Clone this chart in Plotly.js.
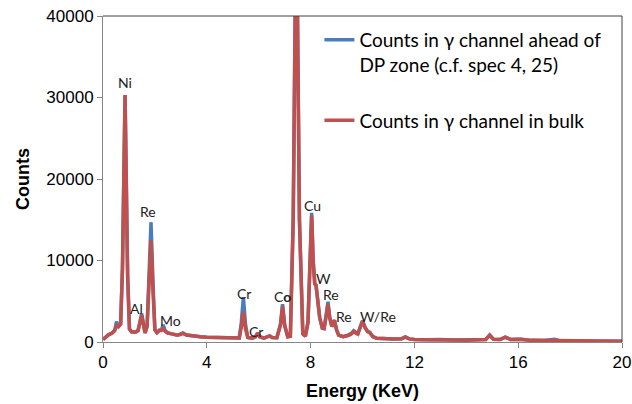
<!DOCTYPE html>
<html>
<head>
<meta charset="utf-8">
<script src="https://cdn.plot.ly/plotly-3.0.1.min.js"></script>
<style>html,body{margin:0;padding:0;background:#fff;}#chart{width:632px;height:404px;}</style>
</head>
<body>
<div id="chart"></div>
<script>
// Energy (keV) sample points
const energy = [
  0.00, 0.10, 0.20, 0.35, 0.45, 0.52, 0.60, 0.68, 0.75, 0.85, 0.95, 1.02, 1.10, 1.25, 1.35, 1.42, 1.49, 1.56, 1.62, 1.70,
  1.77, 1.85, 1.93, 2.00, 2.08, 2.17, 2.25, 2.32, 2.40, 2.50, 2.65, 2.83, 2.95, 3.08, 3.22, 3.45, 3.75, 4.00, 4.50, 5.00,
  5.25, 5.33, 5.41, 5.49, 5.58, 5.75, 5.88, 5.96, 6.04, 6.20, 6.33, 6.42, 6.52, 6.70, 6.84, 6.92, 7.00, 7.12, 7.22, 7.33,
  7.45, 7.57, 7.70, 7.80, 7.90, 7.97, 8.04, 8.10, 8.16, 8.21, 8.27, 8.35, 8.45, 8.52, 8.60, 8.67, 8.74, 8.82, 8.92, 9.00,
  9.08, 9.25, 9.45, 9.58, 9.66, 9.75, 9.82, 9.92, 10.00, 10.10, 10.20, 10.28, 10.40, 10.55, 10.80, 11.20, 11.50, 11.65, 11.80, 12.00,
  12.50, 13.00, 13.50, 14.00, 14.50, 14.75, 14.90, 15.05, 15.30, 15.50, 15.70, 16.10, 16.50, 17.00, 17.40, 17.60, 18.00, 19.00, 20.00
];
// Counts in gamma channel ahead of DP zone
const countsAhead = [
  300, 600, 850, 1100, 1400, 2500, 1900, 2200, 9000, 30300, 8000, 1600, 1250, 1200, 1400, 2400, 3500, 2200, 1100, 2000,
  8000, 14700, 7000, 1500, 1150, 1450, 1500, 2100, 1350, 1100, 1000, 860, 900, 1100, 850, 720, 640, 580, 560, 520,
  500, 2400, 5500, 2200, 550, 480, 650, 1100, 650, 480, 600, 740, 550, 520, 2200, 4650, 2100, 650, 700, 15000,
  55000, 15000, 1000, 700, 2500, 9000, 15850, 10000, 7200, 7000, 5300, 3000, 1700, 1650, 3300, 4950, 3000, 1900, 2700, 1500,
  850, 650, 850, 1100, 1400, 1100, 1000, 1900, 2600, 1800, 1300, 1200, 650, 450, 400, 380, 400, 650, 380, 300,
  280, 320, 250, 230, 230, 300, 860, 320, 300, 600, 320, 350, 200, 180, 320, 150, 130, 110, 100
];
// Counts in gamma channel in bulk
const countsBulk = [
  300, 600, 850, 1100, 1400, 2000, 1900, 2200, 9000, 30300, 8000, 1600, 1250, 1200, 1400, 2300, 3300, 2100, 1100, 1900,
  7000, 12500, 6000, 1500, 1150, 1400, 1400, 1650, 1300, 1100, 1000, 860, 900, 1050, 850, 720, 640, 580, 560, 520,
  500, 1800, 3700, 1600, 550, 480, 650, 1100, 650, 480, 600, 740, 550, 520, 2100, 4400, 2000, 650, 700, 15000,
  55000, 15000, 1000, 700, 2400, 8800, 15500, 9800, 7100, 6900, 5200, 3000, 1700, 1650, 3200, 4600, 2900, 1900, 2650, 1500,
  850, 650, 800, 1000, 1300, 1050, 1000, 1850, 2550, 1750, 1250, 1150, 650, 450, 400, 380, 400, 600, 380, 300,
  280, 300, 250, 230, 230, 300, 820, 320, 300, 580, 320, 340, 200, 180, 250, 150, 130, 110, 100
];
const seriesNames = [
  "Counts in γ channel ahead of<br>DP zone (c.f. spec 4, 25)",
  "Counts in γ channel in bulk"
];
// Peak labels
const peakLabels = ["Ni", "Re", "Al", "Mo", "Cr", "Cr", "C<b>o</b>", "Cu", "W", "Re", "Re", "W/Re"];
const peakLabelX = [0.85, 1.74, 1.30, 2.62, 5.43, 5.91, 6.93, 8.07, 8.50, 8.77, 9.27, 10.59];
const peakLabelY = [31780, 15990, 4050, 2620, 5970, 1270, 5560, 16810, 7810, 5770, 3190, 3190];
const xTicks = [0, 4, 8, 12, 16, 20];
const yTicks = [0, 10000, 20000, 30000, 40000];

const traces = [
  {x: energy, y: countsAhead, name: seriesNames[0], type: "scatter", mode: "lines",
   line: {color: "#4a7ebb", width: 3.5}, legendgroup: "a"},
  {x: energy, y: countsBulk, name: seriesNames[1], type: "scatter", mode: "lines",
   line: {color: "#c0504d", width: 3.5}, legendgroup: "b"}
];

const annotations = peakLabels.map((t, i) => ({
  x: peakLabelX[i], y: peakLabelY[i], xref: "x", yref: "y", text: t, showarrow: false,
  font: {family: "Lato, 'Noto Sans', sans-serif", size: 14, color: "#222"},
  xanchor: "center", yanchor: "middle"
}));

const layout = {
  width: 632, height: 404,
  margin: {l: 103, r: 10, t: 16, b: 62},
  paper_bgcolor: "#fff", plot_bgcolor: "#fff",
  font: {family: "'Liberation Sans', Arial, sans-serif", color: "#000"},
  xaxis: {
    range: [0, 20], tickvals: xTicks, ticktext: xTicks.map(String),
    showgrid: false, zeroline: false, showline: true, linecolor: "#868686", linewidth: 1,
    ticks: "outside", ticklen: 5, tickcolor: "#868686",
    tickfont: {size: 17, color: "#000"},
    title: {text: "<b>Energy (KeV)</b>", font: {size: 18, color: "#000"}, standoff: 12}
  },
  yaxis: {
    range: [0, 40000], tickvals: yTicks, ticktext: yTicks.map(String),
    showgrid: false, zeroline: false, showline: true, linecolor: "#868686", linewidth: 1,
    ticks: "outside", ticklen: 5, tickcolor: "#868686",
    tickfont: {size: 17, color: "#000"},
    title: {text: "<b>Counts</b>", font: {size: 18, color: "#000"}, standoff: 12}
  },
  showlegend: true,
  legend: {
    x: 0.417, y: 0.985, xanchor: "left", yanchor: "top",
    bgcolor: "rgba(255,255,255,0)", borderwidth: 0,
    font: {family: "Lato, 'Noto Sans', sans-serif", size: 19, color: "#000"},
    valign: "top", tracegroupgap: 28, traceorder: "grouped"
  },
  annotations: annotations,
  shapes: [
    {type: "line", xref: "paper", yref: "paper", x0: 0, x1: 1, y0: 1, y1: 1, line: {color: "#404040", width: 1}},
    {type: "line", xref: "paper", yref: "paper", x0: 1, x1: 1, y0: 0, y1: 1, line: {color: "#404040", width: 1}}
  ]
};

Plotly.newPlot("chart", traces, layout, {staticPlot: true, displayModeBar: false});
</script>
</body>
</html>
